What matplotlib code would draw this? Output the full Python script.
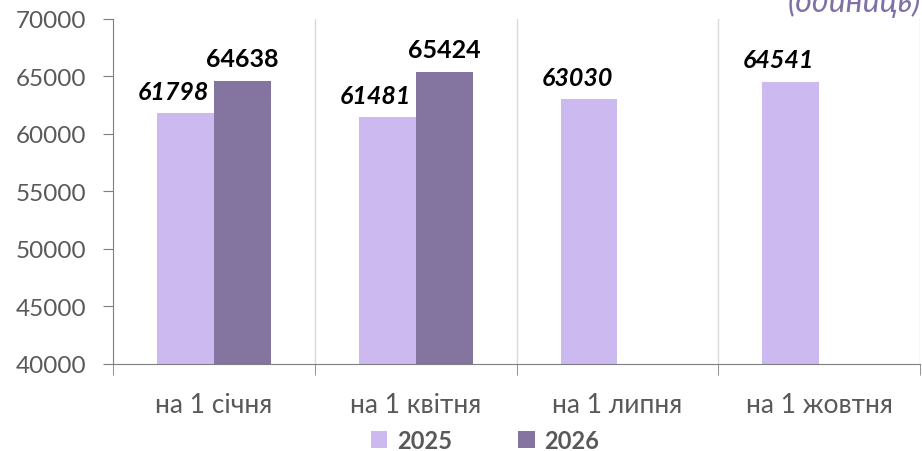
import matplotlib
matplotlib.use("Agg")
import matplotlib.pyplot as plt
import numpy as np
from matplotlib.patches import Patch

categories = ["на 1 січня", "на 1 квітня", "на 1 липня", "на 1 жовтня"]
series_names = ["2025", "2026"]
values_2025 = [61798, 61481, 63030, 64541]
values_2026 = [64638, 65424, None, None]
title_text = "(одиниць)"

c2025 = "#CBB9EF"
c2026 = "#8474A0"
gray = "#595959"

plt.rcParams['font.family'] = ['Lato', 'DejaVu Sans']

fig = plt.figure(figsize=(9.22, 4.52), dpi=100)
ax = fig.add_axes([0.1226, 0.1925, 0.8754, 0.7633])

x = np.arange(len(categories))
w = 0.282
for i, v in enumerate(values_2025):
    ax.bar(x[i] - w / 2, v - 40000, w, bottom=40000, color=c2025, zorder=2)
    ax.text(x[i] - w / 2 - 0.06, v + 900, f"{v}", ha="center", va="bottom",
            fontsize=18, fontweight="bold", fontstyle="italic", color="black")
for i, v in enumerate(values_2026):
    if v is None:
        continue
    ax.bar(x[i] + w / 2, v - 40000, w, bottom=40000, color=c2026, zorder=2)
    ax.text(x[i] + w / 2, v + 900, f"{v}", ha="center", va="bottom",
            fontsize=18, fontweight="bold", color="black")

ax.set_ylim(40000, 70000)
ax.set_xlim(-0.5, len(categories) - 0.5)
ax.set_yticks(np.arange(40000, 70001, 5000))
ax.tick_params(axis="y", labelsize=17.5, colors=gray, length=7, color="#7F7F7F", pad=12)
ax.set_xticks(x)
ax.set_xticklabels(categories)
ax.tick_params(axis="x", which="major", length=0, labelsize=19, colors=gray, pad=20)
ax.set_xticks(np.arange(-0.5, len(categories) + 0.5, 1), minor=True)
ax.tick_params(axis="x", which="minor", length=8, color="#7F7F7F")
for b in np.arange(0.5, len(categories) - 0.5, 1):
    ax.axvline(b, color="#D9D9D9", lw=1, zorder=0)
ax.axvline(len(categories) - 0.5, color="#D9D9D9", lw=1, zorder=0)

for s in ["top", "right"]:
    ax.spines[s].set_visible(False)
for s in ["left", "bottom"]:
    ax.spines[s].set_color("#7F7F7F")

fig.text(0.999, 0.995, title_text, ha="right", va="center", fontsize=23,
         fontstyle="italic", color="#8070A8")

handles = [Patch(facecolor=c2025), Patch(facecolor=c2026)]
leg = fig.legend(handles, series_names, loc="center", bbox_to_anchor=(0.526, 0.024),
                 ncol=2, frameon=False, handlelength=0.7, handleheight=0.7,
                 columnspacing=2.8, handletextpad=0.4,
                 prop={"size": 17, "weight": "bold"})
for t in leg.get_texts():
    t.set_color(gray)

fig.savefig("out.png", dpi=100)
